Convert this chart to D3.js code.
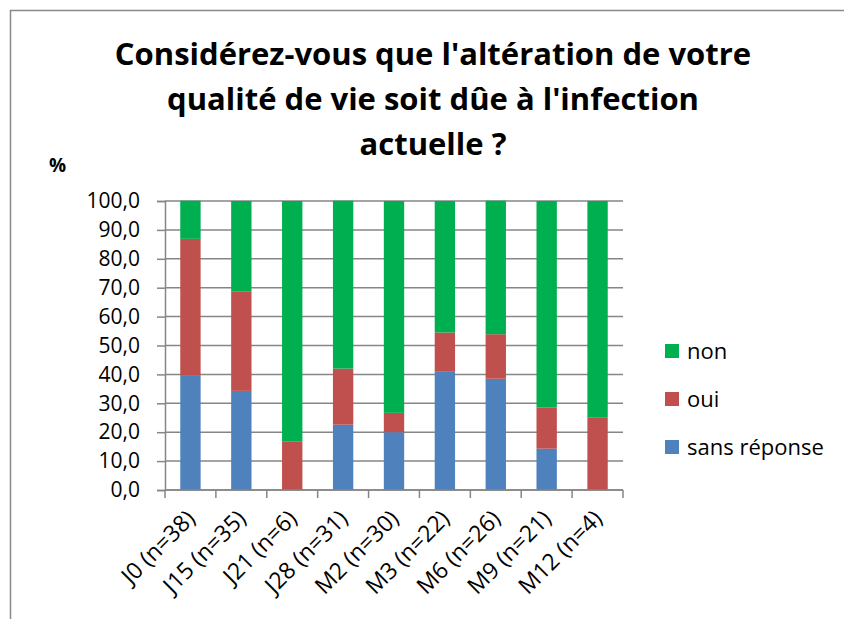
<!DOCTYPE html>
<html lang="fr">
<head>
    <meta charset="UTF-8">
    <title>Qualité de vie</title>
    <script src="https://d3js.org/d3.v7.min.js"></script>
    <style>
        html, body { margin: 0; background: #fff; overflow: hidden; }
        svg { display: block; }
        text { font-family: "Open Sans", Calibri, sans-serif; fill: #000; }
        .grid-line { stroke: #868686; stroke-width: 1.5px; }
        .axis path, .axis line { stroke: #868686; stroke-width: 1.5px; }
    </style>
</head>
<body>
    <div id="chart"></div>

    <script>
        // data
        const categories = ["J0 (n=38)", "J15 (n=35)", "J21 (n=6)", "J28 (n=31)", "M2 (n=30)",
                            "M3 (n=22)", "M6 (n=26)", "M9 (n=21)", "M12 (n=4)"];
        const sansReponse = [39.5, 34.3, 0, 22.6, 20.0, 40.9, 38.5, 14.3, 0];
        const oui = [47.4, 34.3, 16.7, 19.4, 6.7, 13.6, 15.4, 14.3, 25.0];
        const non = [13.2, 31.4, 83.3, 58.1, 73.3, 45.5, 46.2, 71.4, 75.0];
        const seriesNames = ["sans réponse", "oui", "non"];
        const yTicks = [0, 10, 20, 30, 40, 50, 60, 70, 80, 90, 100];

        const colors = { "sans réponse": "#4F81BD", "oui": "#C0504D", "non": "#00B050" };

        const W = 844, H = 619;
        const margin = { top: 201, right: 221, bottom: 129, left: 165 },
              width = W - margin.left - margin.right,
              height = H - margin.top - margin.bottom;

        const table = categories.map((c, i) => ({
            cat: c, "sans réponse": sansReponse[i], "oui": oui[i], "non": non[i]
        }));
        const stacked = d3.stack().keys(seriesNames)(table);

        const root = d3.select("#chart")
          .append("svg")
            .attr("width", W)
            .attr("height", H);

        // frame
        root.append("rect")
            .attr("x", 10.5).attr("y", 10.5)
            .attr("width", W + 20).attr("height", H + 20)
            .attr("fill", "none")
            .attr("stroke", "#898989")
            .attr("stroke-width", 1.5);

        // title
        const titleLines = ["Considérez-vous que l'altération de votre",
                            "qualité de vie soit dûe à l'infection",
                            "actuelle ?"];
        root.append("g").selectAll("text")
            .data(titleLines)
            .enter()
            .append("text")
            .attr("x", 433)
            .attr("y", (d, i) => 65 + i * 45)
            .attr("text-anchor", "middle")
            .style("font-size", "31px")
            .style("font-weight", "bold")
            .text(d => d);

        root.append("text")
            .attr("x", 49)
            .attr("y", 172)
            .style("font-size", "19px")
            .style("font-weight", "bold")
            .text("%");

        const svg = root.append("g")
            .attr("transform", `translate(${margin.left},${margin.top})`);

        const x = d3.scaleBand()
            .domain(categories)
            .range([0, width])
            .paddingInner(0.6)
            .paddingOuter(0.3);

        const y = d3.scaleLinear()
            .domain([0, 100])
            .range([height, 0]);

        // grid
        svg.selectAll(".grid-line")
            .data(yTicks)
            .enter()
            .append("line")
            .attr("class", "grid-line")
            .attr("x1", 0)
            .attr("x2", width)
            .attr("y1", d => y(d))
            .attr("y2", d => y(d));

        // bars
        svg.selectAll(".series")
            .data(stacked)
            .enter()
            .append("g")
            .attr("fill", d => colors[d.key])
            .selectAll("rect")
            .data(d => d)
            .enter()
            .append("rect")
            .attr("x", d => x(d.data.cat))
            .attr("width", x.bandwidth())
            .attr("y", d => y(d[1]))
            .attr("height", d => y(d[0]) - y(d[1]));

        // y axis
        const yAxis = svg.append("g")
            .attr("class", "axis")
            .call(d3.axisLeft(y).tickValues(yTicks).tickSize(8).tickPadding(17)
                .tickFormat(d => d3.format(".1f")(d).replace(".", ",")));
        yAxis.selectAll("text").style("font-size", "21px");

        // x axis with ticks at band boundaries
        const xAxis = svg.append("g")
            .attr("class", "axis")
            .attr("transform", `translate(0,${height})`);
        xAxis.append("line")
            .attr("x1", 0).attr("x2", width)
            .attr("y1", 0).attr("y2", 0);
        xAxis.selectAll(".bt")
            .data(d3.range(categories.length + 1))
            .enter()
            .append("line")
            .attr("x1", i => i * width / categories.length)
            .attr("x2", i => i * width / categories.length)
            .attr("y1", 0).attr("y2", 8);
        xAxis.selectAll(".lbl")
            .data(categories)
            .enter()
            .append("text")
            .attr("text-anchor", "end")
            .attr("transform", d => `translate(${x(d) + x.bandwidth() / 2 + 6},${30}) rotate(-45)`)
            .style("font-size", "23px")
            .text(d => d);

        // legend
        const legend = root.append("g")
            .attr("transform", "translate(665,344)");
        const legendOrder = ["non", "oui", "sans réponse"];
        legendOrder.forEach((k, i) => {
            const g = legend.append("g").attr("transform", `translate(0,${i * 48})`);
            g.append("rect")
                .attr("width", 14).attr("height", 14)
                .attr("fill", colors[k]);
            g.append("text")
                .attr("x", 22).attr("y", 15)
                .style("font-size", "22px")
                .text(k);
        });
    </script>
</body>
</html>
